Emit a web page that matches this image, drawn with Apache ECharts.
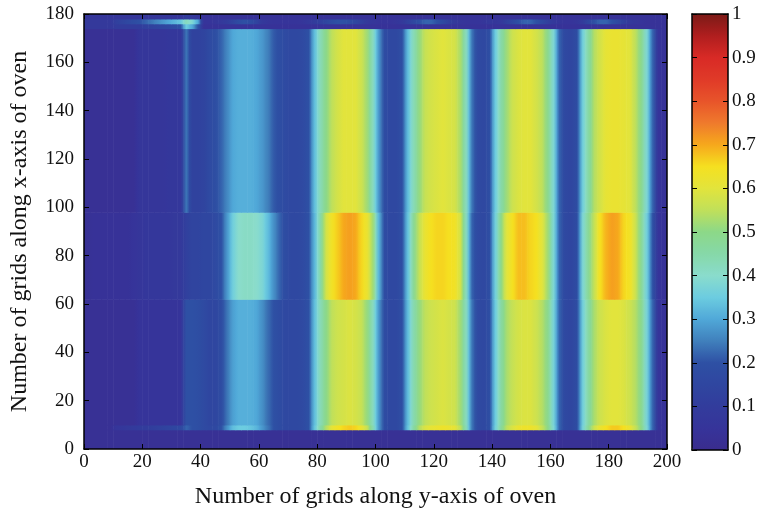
<!DOCTYPE html>
<html><head><meta charset="utf-8">
<script src="https://cdn.jsdelivr.net/npm/echarts@6/dist/echarts.min.js"></script>
<style>html,body{margin:0;padding:0;background:#fff}#c{width:764px;height:514px}</style>
</head><body><div id="c"></div>
<script>
// ---- data (x columns of width 2 grid units, from x=0 to x=200) ----
const colWidth = 2;
const bandEdges = [0, 8, 10, 62, 98, 174, 176, 178, 180];

const bottomBand = [
  0.03,0.03,0.03,0.03,0.03,0.03,0.03,0.03,0.03,0.03,
  0.03,0.03,0.03,0.03,0.03,0.03,0.03,0.03,0.03,0.03,
  0.03,0.03,0.03,0.03,0.03,0.03,0.03,0.03,0.03,0.03,
  0.03,0.03,0.03,0.03,0.03,0.03,0.03,0.03,0.03,0.03,
  0.03,0.03,0.03,0.03,0.03,0.03,0.03,0.03,0.03,0.03,
  0.03,0.03,0.03,0.03,0.03,0.03,0.03,0.03,0.03,0.03,
  0.03,0.03,0.03,0.03,0.03,0.03,0.03,0.03,0.03,0.03,
  0.03,0.03,0.03,0.03,0.03,0.03,0.03,0.03,0.03,0.03,
  0.03,0.03,0.03,0.03,0.03,0.03,0.03,0.03,0.03,0.03,
  0.03,0.03,0.03,0.03,0.03,0.03,0.03,0.03,0.03,0.03
];
const bandA0 = [
  0.03,0.03,0.03,0.03,0.03,0.06,0.07,0.08,0.09,0.10,
  0.10,0.11,0.12,0.13,0.14,0.15,0.16,0.22,0.20,0.19,
  0.17,0.16,0.16,0.20,0.27,0.33,0.35,0.35,0.34,0.32,
  0.28,0.24,0.20,0.18,0.16,0.16,0.16,0.17,0.20,0.34,
  0.45,0.54,0.61,0.64,0.66,0.67,0.66,0.62,0.56,0.44,
  0.28,0.18,0.16,0.16,0.19,0.34,0.46,0.54,0.59,0.61,
  0.62,0.63,0.62,0.61,0.55,0.43,0.24,0.17,0.16,0.19,
  0.36,0.47,0.55,0.59,0.62,0.63,0.63,0.61,0.56,0.50,
  0.38,0.22,0.16,0.15,0.18,0.37,0.48,0.57,0.62,0.65,
  0.67,0.67,0.65,0.62,0.56,0.50,0.38,0.22,0.05,0.04
];
const bandA = [
  0.03,0.03,0.03,0.03,0.03,0.03,0.03,0.03,0.03,0.05,
  0.05,0.05,0.05,0.05,0.05,0.05,0.05,0.20,0.20,0.19,
  0.17,0.15,0.15,0.18,0.24,0.29,0.31,0.31,0.31,0.30,
  0.27,0.23,0.20,0.18,0.16,0.16,0.16,0.17,0.20,0.33,
  0.43,0.50,0.55,0.57,0.58,0.59,0.58,0.56,0.51,0.42,
  0.28,0.18,0.16,0.16,0.19,0.33,0.44,0.51,0.55,0.57,
  0.58,0.59,0.58,0.57,0.52,0.42,0.24,0.17,0.16,0.19,
  0.35,0.46,0.53,0.56,0.58,0.59,0.59,0.57,0.54,0.49,
  0.37,0.22,0.16,0.15,0.18,0.36,0.46,0.53,0.57,0.59,
  0.60,0.60,0.59,0.57,0.54,0.49,0.37,0.22,0.05,0.04
];
const bandB = [
  0.03,0.04,0.04,0.04,0.04,0.04,0.04,0.04,0.05,0.06,
  0.07,0.07,0.07,0.07,0.07,0.08,0.08,0.12,0.14,0.14,
  0.15,0.15,0.17,0.20,0.28,0.36,0.40,0.41,0.41,0.40,
  0.38,0.33,0.27,0.22,0.18,0.16,0.16,0.17,0.20,0.32,
  0.45,0.58,0.64,0.67,0.70,0.71,0.70,0.66,0.62,0.52,
  0.32,0.18,0.16,0.16,0.19,0.34,0.48,0.56,0.62,0.65,
  0.66,0.66,0.65,0.64,0.58,0.42,0.22,0.17,0.16,0.19,
  0.36,0.50,0.60,0.65,0.68,0.68,0.66,0.65,0.60,0.52,
  0.38,0.22,0.16,0.15,0.18,0.38,0.48,0.56,0.65,0.69,
  0.71,0.70,0.66,0.64,0.57,0.48,0.36,0.20,0.05,0.04
];
const bandC = [
  0.03,0.03,0.03,0.03,0.03,0.03,0.03,0.03,0.03,0.06,
  0.06,0.06,0.06,0.06,0.07,0.07,0.07,0.24,0.13,0.13,
  0.14,0.17,0.19,0.22,0.26,0.30,0.31,0.31,0.31,0.30,
  0.28,0.25,0.21,0.19,0.17,0.16,0.16,0.17,0.20,0.33,
  0.43,0.50,0.55,0.58,0.60,0.60,0.60,0.57,0.52,0.42,
  0.28,0.18,0.16,0.16,0.19,0.33,0.43,0.51,0.56,0.58,
  0.59,0.60,0.59,0.58,0.53,0.42,0.24,0.17,0.16,0.19,
  0.35,0.45,0.52,0.57,0.59,0.60,0.60,0.58,0.55,0.49,
  0.38,0.22,0.16,0.15,0.18,0.36,0.46,0.54,0.58,0.61,
  0.62,0.62,0.61,0.60,0.55,0.49,0.38,0.22,0.05,0.04
];
const topLow = [
  0.08,0.08,0.08,0.08,0.08,0.10,0.10,0.10,0.10,0.10,
  0.12,0.13,0.14,0.15,0.16,0.18,0.20,0.35,0.30,0.20,
  0.04,0.04,0.04,0.04,0.04,0.04,0.04,0.04,0.04,0.04,
  0.04,0.04,0.04,0.04,0.04,0.04,0.04,0.04,0.04,0.04,
  0.04,0.04,0.04,0.04,0.04,0.04,0.04,0.04,0.04,0.04,
  0.04,0.04,0.04,0.04,0.04,0.04,0.04,0.04,0.04,0.04,
  0.04,0.04,0.04,0.04,0.04,0.04,0.04,0.04,0.04,0.04,
  0.04,0.04,0.04,0.04,0.04,0.04,0.04,0.04,0.04,0.04,
  0.04,0.04,0.04,0.04,0.04,0.04,0.04,0.04,0.04,0.04,
  0.04,0.04,0.04,0.04,0.04,0.04,0.04,0.04,0.04,0.04
];
const topMid = [
  0.08,0.08,0.08,0.08,0.08,0.12,0.14,0.16,0.18,0.20,
  0.22,0.24,0.26,0.28,0.30,0.32,0.34,0.42,0.38,0.30,
  0.05,0.05,0.06,0.08,0.10,0.14,0.18,0.20,0.18,0.14,
  0.08,0.06,0.05,0.05,0.05,0.05,0.05,0.06,0.08,0.10,
  0.12,0.15,0.18,0.20,0.20,0.18,0.15,0.12,0.08,0.06,
  0.05,0.05,0.05,0.06,0.08,0.12,0.16,0.20,0.22,0.22,
  0.20,0.16,0.12,0.08,0.06,0.05,0.05,0.05,0.06,0.08,
  0.06,0.08,0.12,0.16,0.20,0.22,0.22,0.20,0.16,0.12,
  0.08,0.06,0.05,0.05,0.06,0.10,0.15,0.20,0.22,0.22,
  0.20,0.16,0.12,0.08,0.06,0.05,0.04,0.04,0.04,0.04
];
const topHigh = [
  0.06,0.06,0.06,0.06,0.06,0.06,0.06,0.06,0.06,0.06,
  0.06,0.06,0.06,0.06,0.06,0.06,0.06,0.10,0.08,0.06,
  0.04,0.04,0.04,0.04,0.04,0.04,0.04,0.04,0.04,0.04,
  0.04,0.04,0.04,0.04,0.04,0.04,0.04,0.04,0.04,0.04,
  0.04,0.04,0.04,0.04,0.04,0.04,0.04,0.04,0.04,0.04,
  0.04,0.04,0.04,0.04,0.04,0.04,0.04,0.04,0.04,0.04,
  0.04,0.04,0.04,0.04,0.04,0.04,0.04,0.04,0.04,0.04,
  0.04,0.04,0.04,0.04,0.04,0.04,0.04,0.04,0.04,0.04,
  0.04,0.04,0.04,0.04,0.04,0.04,0.04,0.04,0.04,0.04,
  0.04,0.04,0.04,0.04,0.04,0.04,0.04,0.04,0.04,0.04
];
const bandProfiles = [bottomBand, bandA0, bandA, bandB, bandC, topLow, topMid, topHigh];

const colorStops = [
  '#3a2c8e','#36349a','#323c9c','#2f46a0','#2e50a4','#4080bc','#50a8d8','#6ccce0',
  '#8adccc','#86d8a8','#8cd888','#c0e05a','#e2e43c','#f5e020','#f6a81c','#ef7a2c',
  '#e8542a','#e03a28','#d82a26','#b01e1e','#7b1a17'
];

const xTitle = 'Number of grids along y-axis of oven';
const yTitle = 'Number of grids along x-axis of oven';

// cell: [x0, x1, y0, y1, value, leftNeighbour, rightNeighbour]
const cells = [];
bandProfiles.forEach(function (prof, b) {
  prof.forEach(function (v, i) {
    const vl = i > 0 ? prof[i - 1] : v;
    const vr = i < prof.length - 1 ? prof[i + 1] : v;
    cells.push([i * colWidth, (i + 1) * colWidth, bandEdges[b], bandEdges[b + 1], v, vl, vr]);
  });
});

function cmap(v) {
  return echarts.color.lerp(Math.max(0, Math.min(1, v)), colorStops);
}

const FONT = '"Liberation Serif", "Times New Roman", serif';
const lineStyle = {color: '#000', width: 1.5};
function plainAxis(extra) {
  return Object.assign({
    type: 'value',
    axisLine: {show: true, onZero: false, lineStyle: lineStyle},
    axisTick: {show: true, inside: true, length: 5, lineStyle: {color: '#000', width: 1}},
    axisLabel: {show: false},
    splitLine: {show: false},
    z: 10
  }, extra);
}

const chart = echarts.init(document.getElementById('c'), null, {renderer: 'canvas'});
chart.setOption({
  animation: false,
  backgroundColor: '#fff',
  grid: [
    {left: 82, top: 14, width: 585, height: 435},
    {left: 692, top: 14, width: 36, height: 436}
  ],
  xAxis: [
    plainAxis({gridIndex: 0, min: 0, max: 200, interval: 20, position: 'bottom',
      name: xTitle, nameLocation: 'middle', nameGap: 36,
      nameTextStyle: {fontFamily: FONT, fontSize: 24, color: '#111'},
      axisLabel: {show: true, fontFamily: FONT, fontSize: 19, color: '#111', margin: 4}}),
    plainAxis({gridIndex: 0, min: 0, max: 200, interval: 20, position: 'top'}),
    plainAxis({gridIndex: 1, min: 0, max: 1, position: 'bottom', axisTick: {show: false}}),
    plainAxis({gridIndex: 1, min: 0, max: 1, position: 'top', axisTick: {show: false}})
  ],
  yAxis: [
    plainAxis({gridIndex: 0, min: 0, max: 180, interval: 20, position: 'left',
      name: yTitle, nameLocation: 'middle', nameGap: 52,
      nameTextStyle: {fontFamily: FONT, fontSize: 24, color: '#111'},
      axisLabel: {show: true, fontFamily: FONT, fontSize: 19, color: '#111', margin: 10}}),
    plainAxis({gridIndex: 0, min: 0, max: 180, interval: 20, position: 'right'}),
    plainAxis({gridIndex: 1, min: 0, max: 1, interval: 0.1, position: 'left'}),
    plainAxis({gridIndex: 1, min: 0, max: 1, interval: 0.1, position: 'right',
      axisLabel: {show: true, fontFamily: FONT, fontSize: 19, color: '#111', margin: 4}})
  ],
  visualMap: {
    type: 'continuous', min: 0, max: 1, dimension: 4, seriesIndex: 0,
    inRange: {color: colorStops},
    left: 692, top: 14, itemWidth: 36, itemHeight: 436,
    calculable: false, padding: 0, hoverLink: false, text: null, z: 4
  },
  series: [{
    type: 'custom', coordinateSystem: 'cartesian2d', xAxisIndex: 0, yAxisIndex: 0,
    data: cells, encode: {x: [0, 1], y: [2, 3]}, clip: true,
    renderItem: function (params, api) {
      const p0 = api.coord([api.value(0), api.value(3)]);
      const p1 = api.coord([api.value(1), api.value(2)]);
      const v = api.value(4), vl = api.value(5), vr = api.value(6);
      return {
        type: 'rect',
        shape: {x: p0[0], y: p0[1], width: p1[0] - p0[0] + 0.6, height: p1[1] - p0[1] + 0.6},
        style: {
          fill: new echarts.graphic.LinearGradient(0, 0, 1, 0, [
            {offset: 0, color: cmap((vl + v) / 2)},
            {offset: 0.5, color: api.visual('color')},
            {offset: 1, color: cmap((v + vr) / 2)}
          ])
        }
      };
    }
  }]
});
</script></body></html>
